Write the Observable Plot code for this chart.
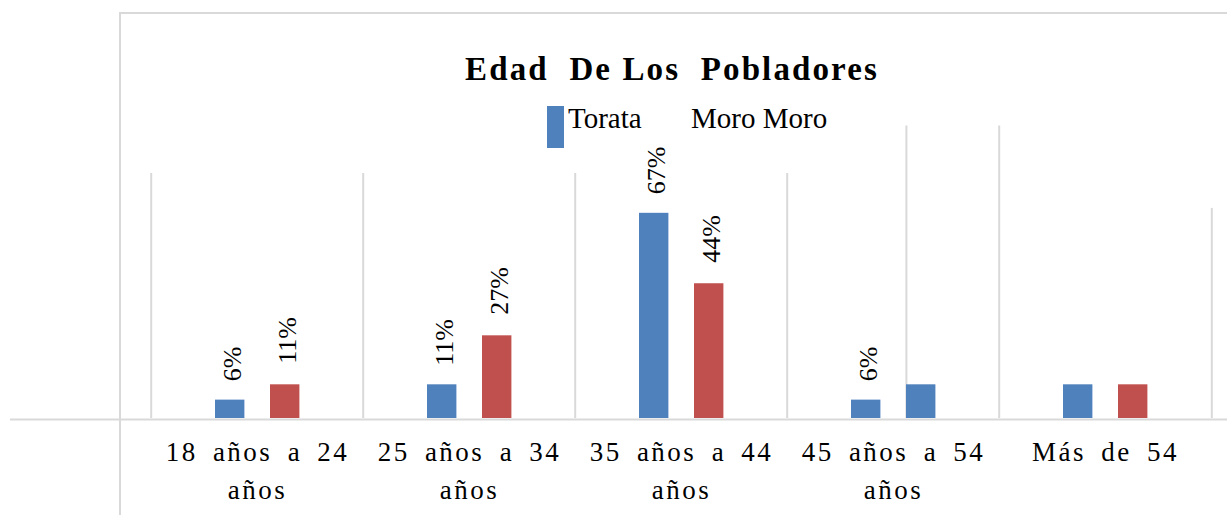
<!DOCTYPE html>
<html>
<head>
<meta charset="utf-8">
<script src="https://cdn.jsdelivr.net/npm/d3@7"></script>
<script src="https://cdn.jsdelivr.net/npm/@observablehq/plot@0.6"></script>
<style>
  html, body { margin: 0; padding: 0; background: #fff; }
  #wrap { position: relative; width: 1227px; height: 515px; overflow: hidden;
          font-family: "Liberation Serif", "Times New Roman", serif; color: #000; }
  #chart { position: absolute; left: 0; top: 0; }
  #frame { position: absolute; left: 119px; top: 12px; width: 1120px; height: 520px;
           border-left: 2px solid #d9d9d9; border-top: 2px solid #d9d9d9; pointer-events: none; }
  #title { position: absolute; top: 53px; left: 672px; transform: translateX(-50%);
           font-family: "Liberation Serif", "Times New Roman", serif;
           font-size: 33px; line-height: 33px; font-weight: bold; letter-spacing: 2.1px; white-space: pre; }
  .lg-swatch { position: absolute; left: 547px; top: 106px; width: 17px; height: 42px; }
  .lg-text { position: absolute; top: 104px; font-size: 29px; line-height: 29px; white-space: pre;
             font-family: "Liberation Serif", "Times New Roman", serif; }
</style>
</head>
<body>
<div id="wrap">
  <div id="chart"></div>
  <div id="frame"></div>
  <div id="title"></div>
  <div id="legend"></div>
</div>
<script>
// ---- data ----
const title = "Edad  De Los  Pobladores";
const categories = ["18 años a 24 años", "25 años a 34 años", "35 años a 44 años", "45 años a 54 años", "Más de 54"];
const tickLabels = ["18 años a 24\naños", "25 años a 34\naños", "35 años a 44\naños", "45 años a 54\naños", "Más de 54"];
const seriesNames = ["Torata", "Moro Moro"];
const torataValues = [6, 11, 67, 6, 11];
const moroMoroValues = [11, 27, 44, 11, 11];
const torataLabels = ["6%", "11%", "67%", "6%", ""];
const moroMoroLabels = ["11%", "27%", "44%", "", ""];
// legend key each Moro Moro slot is drawn with in the reference
const moroMoroShownAs = ["Moro Moro", "Moro Moro", "Moro Moro", "Torata", "Moro Moro"];
const seriesColors = ["#4f81bd", "#c0504d"];

// ---- build table ----
const rows = [];
categories.forEach((c, i) => {
  rows.push({category: c, series: "Torata", value: torataValues[i], label: torataLabels[i], key: "Torata"});
  rows.push({category: c, series: "Moro Moro", value: moroMoroValues[i], label: moroMoroLabels[i], key: moroMoroShownAs[i]});
});
const torataRows = rows.filter(r => r.series === "Torata");
const moroRows = rows.filter(r => r.series === "Moro Moro");

const W = 1227, H = 515, mL = 149, mR = 15;
const bw = (W - mL - mR) / categories.length;   // band width
const grid = {stroke: "#d9d9d9", strokeWidth: 2};
const serif = "'Liberation Serif', 'Times New Roman', serif";

const chart = Plot.plot({
  width: W, height: H,
  marginLeft: mL, marginRight: mR, marginTop: 173, marginBottom: 97,
  style: "font-family: 'Liberation Serif', 'Times New Roman', serif; background: transparent; overflow: visible; white-space: pre; color: #000;",
  x: {domain: categories, padding: 0, axis: null},
  y: {domain: [0, 80], axis: null},
  color: {domain: seriesNames, range: seriesColors},
  marks: [
    Plot.ruleX(categories, {x: d => d, dx: -bw / 2, y1: 0, y2: d => d === categories[4] ? 95.5 : 80, ...grid}),
    Plot.ruleX([categories[3]], {x: d => d, dx: 119.2 - bw / 2, y1: 0, y2: 95.5, ...grid}),
    Plot.ruleX([categories[4]], {x: d => d, dx: bw / 2, y1: 0, y2: 68.6, ...grid}),
    Plot.barY(torataRows, {x: "category", y: "value", fill: "key", insetLeft: 64, insetRight: bw - 94}),
    Plot.barY(moroRows, {x: "category", y: "value", fill: "key", insetLeft: 119, insetRight: bw - 149}),
    Plot.ruleY([0], {insetLeft: -139, insetRight: -mR, dy: 1, ...grid}),
    Plot.text(torataRows.filter(r => r.label), {x: "category", y: "value", text: "label", rotate: -90,
      textAnchor: "start", lineAnchor: "middle", dx: -25, dy: -19, fontSize: 26, fontFamily: serif, fill: "#000"}),
    Plot.text(moroRows.filter(r => r.label), {x: "category", y: "value", text: "label", rotate: -90,
      textAnchor: "start", lineAnchor: "middle", dx: 30, dy: -21, fontSize: 26, fontFamily: serif, fill: "#000"}),
    Plot.axisX({anchor: "bottom", label: null, tickSize: 0, tickPadding: 16, fontSize: 27, lineHeight: 1.4,
      fontFamily: serif, tickFormat: d => tickLabels[categories.indexOf(d)], fill: "#000"})
  ]
});
// letter and word spacing of the category labels, as in the reference
d3.select(chart).selectAll("g[aria-label='x-axis tick label'] text")
  .style("letter-spacing", "2.5px").style("word-spacing", "6px");
document.getElementById("chart").appendChild(chart);

document.getElementById("title").textContent = title;
const legend = document.getElementById("legend");
const sw = document.createElement("div"); sw.className = "lg-swatch"; sw.style.background = seriesColors[0];
legend.appendChild(sw);
const t1 = document.createElement("div"); t1.className = "lg-text"; t1.style.left = "568px"; t1.textContent = seriesNames[0];
const t2 = document.createElement("div"); t2.className = "lg-text"; t2.style.left = "691px"; t2.textContent = seriesNames[1];
legend.appendChild(t1); legend.appendChild(t2);
</script>
</body>
</html>
